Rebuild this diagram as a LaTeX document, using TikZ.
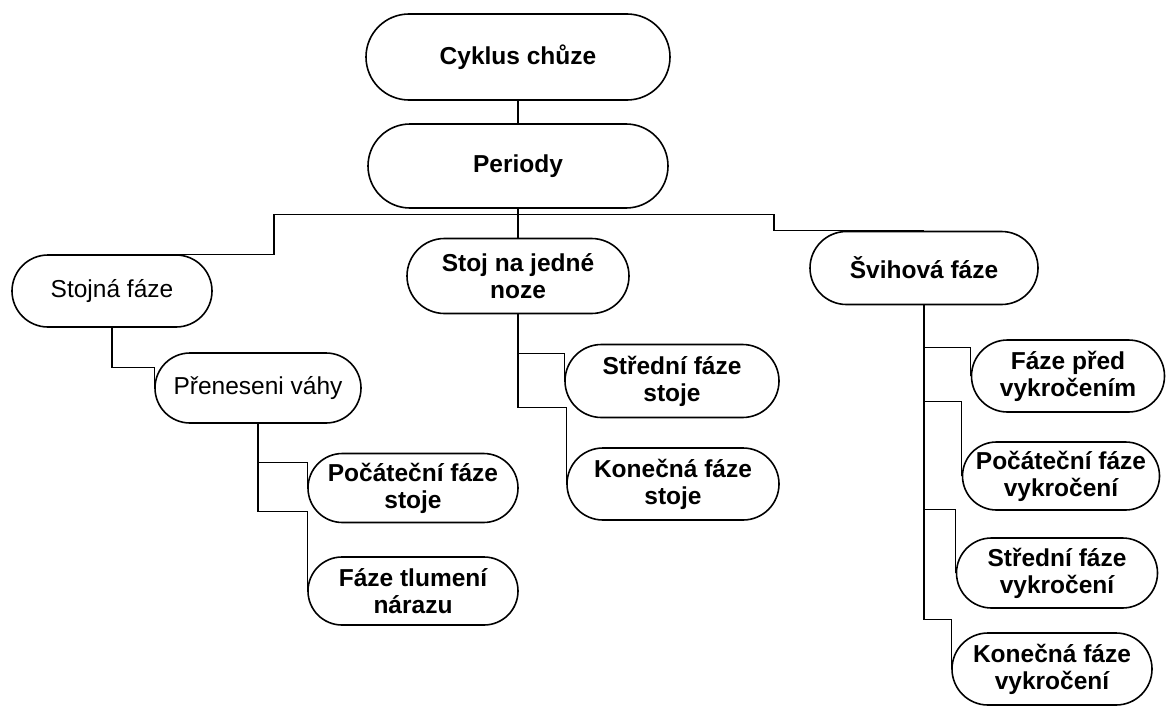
\documentclass[tikz,border=0pt]{standalone}
\usepackage{fontspec}
\setmainfont{Liberation Sans}
\usepackage{tikz}
\usetikzlibrary{positioning}
\usetikzlibrary{shapes.misc}

\begin{document}
\begin{tikzpicture}[x=1pt,y=1pt,yscale=-1,xscale=1]
  \useasboundingbox (0,0) rectangle (1166,717);
  \tikzstyle{phase} = [draw,line width=1.6pt,rounded rectangle,align=center,inner sep=0pt,font=\fontsize{24.5}{27}\selectfont\bfseries]
  \tikzstyle{lightphase} = [phase,font=\fontsize{24.5}{27}\selectfont]
  \tikzstyle{link} = [line width=1.3pt]
  %Draw the top of the tree
 \node [phase,minimum width=304,minimum height=86] (cyklus) at (518,57) {Cyklus chůze};
 \node [phase,minimum width=300,minimum height=84] (periody) at (518,166) {Periody};
  %Draw the three main phases
 \node [lightphase,minimum width=200,minimum height=72] (stojna) at (112,291) {Stojná fáze};
 \node [phase,minimum width=222,minimum height=75] (stoj) at (518,276) {Stoj na jedné\\noze};
 \node [phase,minimum width=228,minimum height=73] (svih) at (924,268) {Švihová fáze};
 %Draw the left branch
 \node [lightphase,minimum width=206,minimum height=70] (prenes) at (258,388) {Přeneseni váhy};
 \node [phase,minimum width=210,minimum height=69] (pocst) at (413,488) {Počáteční fáze\\stoje};
 \node [phase,minimum width=210,minimum height=68] (tlum) at (413,591) {Fáze tlumení\\nárazu};
 %Draw the middle branch
 \node [phase,minimum width=214,minimum height=73] (stred) at (672,381) {Střední fáze\\stoje};
 \node [phase,minimum width=212,minimum height=72] (kon) at (673,484) {Konečná fáze\\stoje};
 %Draw the right branch
 \node [phase,minimum width=193,minimum height=72] (pred) at (1068,376) {Fáze před\\vykročením};
 \node [phase,minimum width=197,minimum height=68] (pocvyk) at (1061,476) {Počáteční fáze\\vykročení};
 \node [phase,minimum width=201,minimum height=70] (stredvyk) at (1057,573) {Střední fáze\\vykročení};
 \node [phase,minimum width=200,minimum height=72] (konvyk) at (1052,669) {Konečná fáze\\vykročení};

 % Connect the top
 \draw [link] (cyklus.south) -- (periody.north);
 \draw [link] (periody.south) -- (stoj.north);
 \draw [link] (periody.south) ++(0,6) -- ++(-244,0) |- (stojna.north);
 \draw [link] (periody.south) ++(0,6) -- ++(256,0) |- (svih.north);
 % Connect the left branch
 \draw [link] (stojna.south) -- ++(0,40) -| (prenes.west);
 \draw [link] (prenes.south) -- ++(0,39) -| (pocst.west);
 \draw [link] (prenes.south) -- ++(0,88) -| (tlum.west);
 % Connect the middle branch
 \draw [link] (stoj.south) -- ++(0,39) -| (stred.west);
 \draw [link] (stoj.south) -- ++(0,93) -| (kon.west);
 % Connect the right branch
 \draw [link] (svih.south) -- ++(0,42) -| (pred.west);
 \draw [link] (svih.south) -- ++(0,96) -| (pocvyk.west);
 \draw [link] (svih.south) -- ++(0,204) -| (stredvyk.west);
 \draw [link] (svih.south) -- ++(0,314) -| (konvyk.west);
\end{tikzpicture}
\end{document}
